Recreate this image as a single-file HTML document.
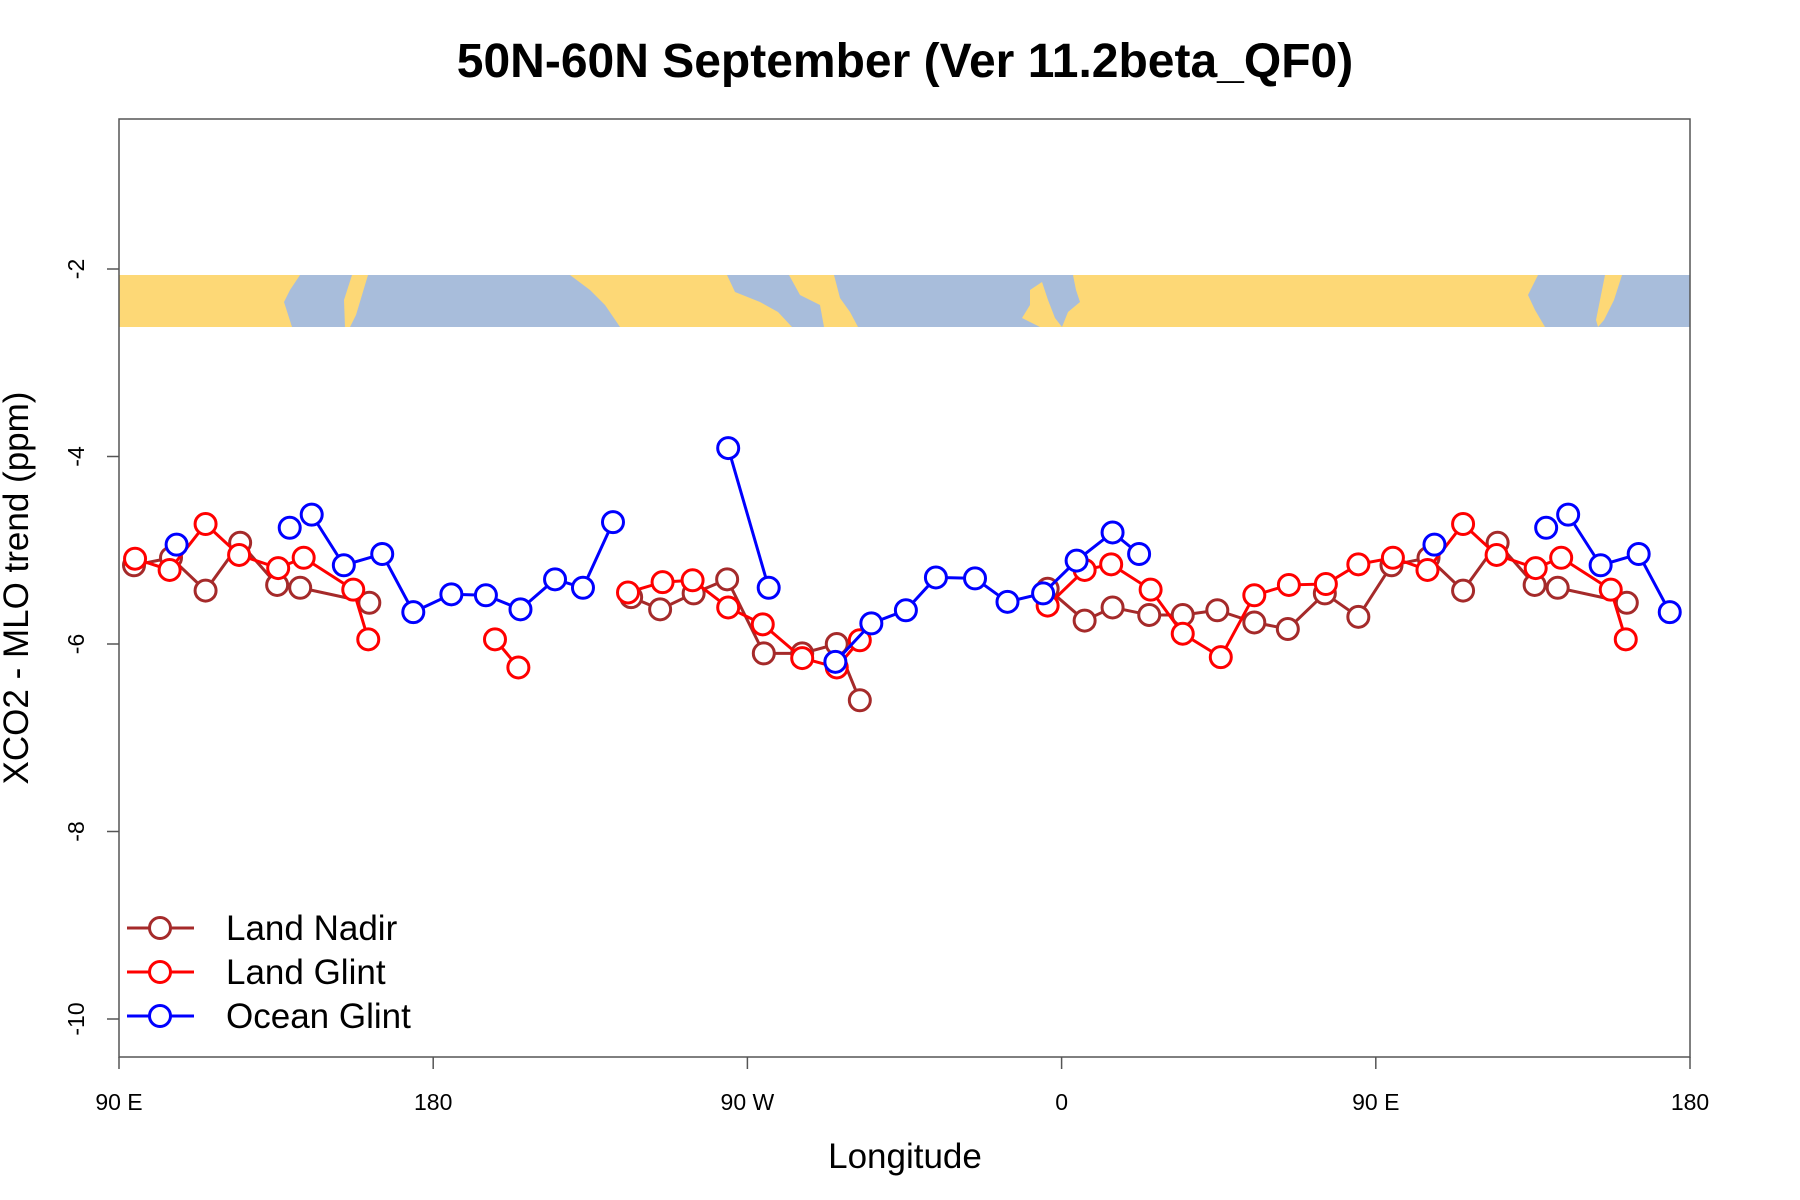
<!DOCTYPE html>
<html><head><meta charset="utf-8"><style>
html,body{margin:0;padding:0;background:#fff;}
svg{display:block;font-family:"Liberation Sans",sans-serif;}
</style></head><body>
<svg id="chart" width="1800" height="1200" viewBox="0 0 1800 1200" xmlns="http://www.w3.org/2000/svg">
<text x="905" y="77" text-anchor="middle" font-size="48" font-weight="bold">50N-60N September (Ver 11.2beta_QF0)</text>
<g id="map-band">
 <rect x="119" y="275" width="1571" height="52" fill="#a8bddb"/>
 <polygon fill="#fdd876" points="119,275 300,275 290,290 284,302 292,327 119,327"/>
 <polygon fill="#fdd876" points="352,275 368,275 362,295 356,315 350,327 345,327 344,300"/>
 <polygon fill="#fdd876" points="570,275 727,275 735,292 760,302 778,312 792,327 620,327 605,305 590,290"/>
 <polygon fill="#fdd876" points="789,275 834,275 840,298 850,312 858,327 824,327 820,305 800,295"/>
 <polygon fill="#fdd876" points="1030,290 1042,282 1048,300 1055,318 1062,327 1040,327 1022,318 1030,305"/>
 <polygon fill="#fdd876" points="1073,275 1538,275 1528,295 1535,310 1545,327 1062,327 1068,312 1080,302 1076,290"/>
 <polygon fill="#fdd876" points="1605,275 1622,275 1614,300 1604,320 1598,327 1596,320 1600,300"/>
</g>
<rect x="119" y="119" width="1571" height="938" fill="none" stroke="#555" stroke-width="1.5"/>
<g id="axes"></g>
<g id="series"></g>
<text x="905" y="1168" text-anchor="middle" font-size="35">Longitude</text>
<text transform="translate(28,588) rotate(-90)" text-anchor="middle" font-size="35">XCO2 - MLO trend (ppm)</text>
<g id="legend"></g>
</svg>
<script>
const xTickLons = [90, 180, 270, 360, 450, 540];
const xTickLabels = ["90 E", "180", "90 W", "0", "90 E", "180"];
const yTicks = [-2, -4, -6, -8, -10];
const seriesNames = ["Land Nadir", "Land Glint", "Ocean Glint"];
const seriesColors = ["#a52a2a", "#ff0000", "#0000ff"];
const nadirLon = [94.3,104.9,114.8,124.7,135.3,141.9,161.7,null,236.7,245,254.6,264.2,274.7,285.7,295.6,302.2,null,356,366.6,374.6,385.1,394.7,404.6,415.2,424.8,435.4,445,454.5,465.1,475,484.9,495.5,502.1,521.9];
const nadirVal = [-5.16,-5.08,-5.43,-4.92,-5.37,-5.40,-5.56,null,-5.50,-5.63,-5.46,-5.31,-6.10,-6.10,-6.00,-6.60,null,-5.41,-5.75,-5.61,-5.69,-5.69,-5.64,-5.77,-5.84,-5.46,-5.71,-5.16,-5.08,-5.43,-4.92,-5.37,-5.40,-5.56];
const glintLon = [94.6,104.5,114.8,124.4,135.6,142.9,157.1,161.4,null,197.7,204.4,null,235.8,245.7,254.3,264.5,274.4,285.7,295.6,302.2,null,356,366.6,374.2,385.5,394.7,405.6,415.2,425.1,435.7,445,454.9,464.8,475,484.6,495.8,503.1,517.3,521.6];
const glintVal = [-5.09,-5.21,-4.72,-5.05,-5.19,-5.08,-5.42,-5.95,null,-5.95,-6.25,null,-5.45,-5.34,-5.32,-5.61,-5.79,-6.15,-6.25,-5.96,null,-5.59,-5.21,-5.15,-5.42,-5.89,-6.14,-5.48,-5.37,-5.36,-5.15,-5.08,-5.21,-4.72,-5.05,-5.19,-5.08,-5.42,-5.95];
const oceanLon = [106.5,null,138.9,null,145.2,154.4,165.4,174.3,185.2,195.1,205,214.9,222.9,231.5,null,264.5,276.1,null,295.2,305.5,315.4,324,335.2,344.5,354.7,364.3,374.6,382.2,null,466.8,null,498.8,null,505.1,514.4,525.3,534.2];
const oceanVal = [-4.94,null,-4.76,null,-4.62,-5.16,-5.04,-5.66,-5.47,-5.48,-5.63,-5.31,-5.40,-4.70,null,-3.91,-5.40,null,-6.19,-5.78,-5.64,-5.29,-5.30,-5.55,-5.46,-5.11,-4.81,-5.04,null,-4.94,null,-4.76,null,-4.62,-5.16,-5.04,-5.66];

const NS = "http://www.w3.org/2000/svg";
const X0 = 119, X1 = 1690, Y0 = 119, Y1 = 1057;
function xScale(lon){ return X0 + (lon - 90) * (X1 - X0) / 450; }
function yScale(v){ return 269 + (-2 - v) * 93.75; }
function mk(tag, attrs, parent){ const e = document.createElementNS(NS, tag); for (const k in attrs) e.setAttribute(k, attrs[k]); parent.appendChild(e); return e; }

const axes = document.getElementById('axes');
xTickLons.forEach((lon, i) => {
  const x = xScale(lon);
  const t = mk('line', {x1:x, x2:x, y1:Y1, y2:Y1+12, stroke:'#555', 'stroke-width':1.5}, axes);
  
  
  const l = mk('text', {x:x, y:1110, 'text-anchor':'middle', 'font-size':23}, axes);
  
  
  l.textContent = xTickLabels[i];
});
yTicks.forEach(v => {
  const y = yScale(v);
  const t = mk('line', {x1:X0-12, x2:X0, y1:y, y2:y, stroke:'#555', 'stroke-width':1.5}, axes);
  
  
  const l = mk('text', {transform:`translate(84,${y}) rotate(-90)`, 'text-anchor':'middle', 'font-size':23}, axes);
  
  
  l.textContent = String(v);
});

const seriesG = document.getElementById('series');
function drawSeries(lons, vals, color, name){
  const g = mk('g', {}, seriesG);
  
  
  let seg = [];
  const flush = () => {
    if (seg.length > 1) {
      const p = mk('polyline', {points: seg.map(q => q.join(',')).join(' '), fill:'none', stroke:color, 'stroke-width':3}, g);
      
      
    }
    seg = [];
  };
  for (let i = 0; i < lons.length; i++) {
    if (lons[i] === null || vals[i] === null) { flush(); continue; }
    seg.push([xScale(lons[i]), yScale(vals[i])]);
  }
  flush();
  for (let i = 0; i < lons.length; i++) {
    if (lons[i] === null || vals[i] === null) continue;
    const c = mk('circle', {cx:xScale(lons[i]), cy:yScale(vals[i]), r:10.5, fill:'#fff', stroke:color, 'stroke-width':3}, g);
    
    
  }
}
drawSeries(nadirLon, nadirVal, seriesColors[0], 'land-nadir');
drawSeries(glintLon, glintVal, seriesColors[1], 'land-glint');
drawSeries(oceanLon, oceanVal, seriesColors[2], 'ocean-glint');

const legend = document.getElementById('legend');
seriesNames.forEach((n, i) => {
  const y = 928 + i * 44;
  const g = mk('g', {}, legend);
  
  
  mk('line', {x1:127, x2:194, y1:y, y2:y, stroke:seriesColors[i], 'stroke-width':3}, g);
  mk('circle', {cx:160, cy:y, r:10.5, fill:'#fff', stroke:seriesColors[i], 'stroke-width':3}, g);
  const t = mk('text', {x:226, y:y+12, 'font-size':35}, g);
  t.textContent = n;
});
</script>
</body></html>
